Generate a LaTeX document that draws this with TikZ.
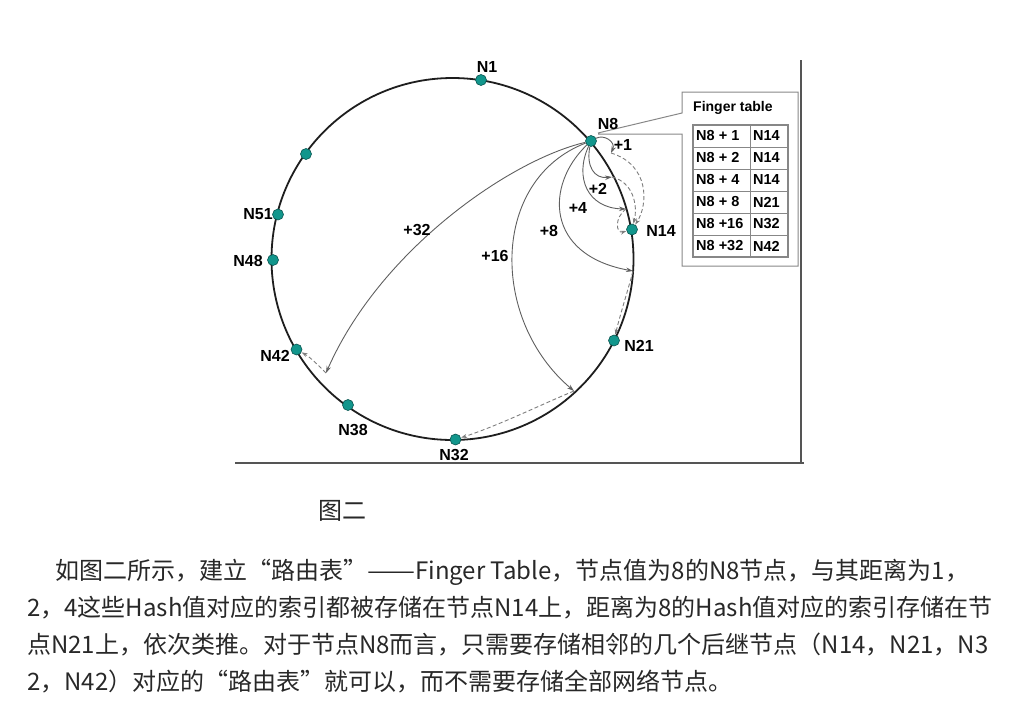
\documentclass[tikz,border=0pt]{standalone}
\usepackage{fontspec}
\usepackage{graphicx}
\newfontfamily\cjkfont{Noto Sans CJK SC}
\newfontfamily\labfont{Liberation Sans}
\usetikzlibrary{arrows.meta,backgrounds}
\definecolor{dotfill}{RGB}{18,150,140}
\definecolor{dotedge}{RGB}{10,85,80}
\definecolor{txt}{RGB}{40,40,40}
\definecolor{arrowgray}{RGB}{95,95,95}
\definecolor{dashgray}{RGB}{125,125,125}
\definecolor{ringcol}{RGB}{30,30,30}
\definecolor{boxgray}{RGB}{135,135,135}
\definecolor{framecol}{RGB}{85,85,85}
\newcommand{\myopenq}{\makebox[1em][r]{“}}
\newcommand{\mycloseq}{\makebox[1em][l]{”}}
\newcommand{\myddash}{\resizebox{2em}{\height}{——}}
\begin{document}
\begin{tikzpicture}[x=1pt,y=-1pt,
  dot/.style={circle, fill=dotfill, draw=dotedge, line width=0.6pt, minimum size=11pt, inner sep=0pt},
  lab/.style={font=\labfont\bfseries\fontsize{16}{16}\selectfont, inner sep=0pt, text=black},
  cell/.style={font=\labfont\bfseries\fontsize{14.5}{14.5}\selectfont, inner sep=0pt, anchor=west, text=black},
  fing/.style={draw=arrowgray, line width=0.9pt, -{Stealth[length=7pt,width=4.5pt]}},
  fdash/.style={draw=dashgray, line width=0.9pt, dash pattern=on 4pt off 2.5pt, -{Stealth[length=6pt,width=4pt]}},
  para/.style={font=\cjkfont\fontsize{24}{24}\selectfont, text=txt, inner sep=0pt, anchor=base west}]
\useasboundingbox (0,0) rectangle (1011,702);

% ring nodes
\node[dot] (n1)  at (481,80) {};
\node[dot] (n8)  at (591,141) {};
\node[dot] (n14) at (632,229.5) {};
\node[dot] (n21) at (614,340.5) {};
\node[dot] (n32) at (455.5,439.5) {};
\node[dot] (n38) at (348,405) {};
\node[dot] (n42) at (296.5,349.5) {};
\node[dot] (n48) at (273,260) {};
\node[dot] (n51) at (278,214.5) {};
\node[dot] (nx)  at (306,154) {};

% ring labels
\node[lab] (l1)  at (487,67)  {N1};
\node[lab] (l8)  at (608,124) {N8};
\node[lab] (l14) at (661,231) {N14};
\node[lab] (l21) at (639,346) {N21};
\node[lab] (l32) at (454,455) {N32};
\node[lab] (l38) at (353,430) {N38};
\node[lab] (l42) at (275,356) {N42};
\node[lab] (l48) at (248,261) {N48};
\node[lab] (l51) at (258,214) {N51};

% finger labels
\node[lab] (p1)  at (623,145) {+1};
\node[lab] (p2)  at (598,189) {+2};
\node[lab] (p4)  at (578,208) {+4};
\node[lab] (p8)  at (549,231) {+8};
\node[lab] (p16) at (495,256) {+16};
\node[lab] (p32) at (417,230) {+32};

% arrow tips on the ring
\coordinate (t1)  at (611,153);
\coordinate (t2)  at (612,177);
\coordinate (t4)  at (626,209);
\coordinate (t8)  at (633,271);
\coordinate (t16) at (574,391);
\coordinate (t32) at (326,373);

% finger table
\node[font=\labfont\bfseries\fontsize{14}{14}\selectfont, inner sep=0pt, anchor=west] (ftitle) at (693,108) {Finger table};
\node[cell] (a1) at (696,136) {N8 + 1};  \node[cell] (b1) at (753,136) {N14};
\node[cell] (a2) at (696,158) {N8 + 2};  \node[cell] (b2) at (753,158) {N14};
\node[cell] (a3) at (696,180) {N8 + 4};  \node[cell] (b3) at (753,180) {N14};
\node[cell] (a4) at (696,202) {N8 + 8};  \node[cell] (b4) at (753,202) {N21};
\node[cell] (a5) at (696,224) {N8 +16};  \node[cell] (b5) at (753,224) {N32};
\node[cell] (a6) at (696,246) {N8 +32};  \node[cell] (b6) at (753,246) {N42};

% text below
\node[para] (cap) at (318,519) {图二};
\node[para] (ln1) at (55,579) {如图二所示，建立\myopenq 路由表\mycloseq\myddash Finger Table，节点值为8的N8节点，与其距离为1，};
\node[para] (ln2) at (27,616) {2，4这些Hash值对应的索引都被存储在节点N14上，距离为8的Hash值对应的索引存储在节};
\node[para] (ln3) at (27,653) {点N21上，依次类推。对于节点N8而言，只需要存储相邻的几个后继节点（N14，N21，N3};
\node[para] (ln4) at (27,690) {2，N42）对应的\myopenq 路由表\mycloseq 就可以，而不需要存储全部网络节点。};

\begin{scope}[on background layer]
  % frame
  \draw[framecol, line width=2.8pt] (801,60) -- (801,464.4);
  \draw[framecol, line width=2.8pt] (235,463) -- (804,463);
  % ring
  \draw[ringcol, line width=1.8pt] (452.5,259) circle[radius=181];
  % callout box
  \draw[boxgray, line width=1pt] (598,133) -- (682,113) -- (682,92) -- (798,92) -- (798,266) -- (682,266) -- (682,134) -- (598,134);
  % table grid
  \draw[boxgray, line width=1.2pt] (693,125) rectangle (788,257);
  \draw[boxgray, line width=0.8pt] (750,125) -- (750,257);
  \foreach \yy in {147,169,191,213,235} \draw[boxgray, line width=0.8pt] (693,\yy) -- (788,\yy);
  % finger arrows
  \draw[fing] (n8) .. controls (604,134) and (616,142) .. (t1);
  \draw[fing] (n8) .. controls (586,166) and (594,179) .. (t2);
  \draw[fing] (n8) .. controls (574,178) and (588,208) .. (t4);
  \draw[fing] (n8) .. controls (545,185) and (545,255) .. (t8);
  \draw[fing] (n8) .. controls (490,180) and (490,320) .. (t16);
  \draw[fing] (n8) .. controls (510,160) and (380,250) .. (t32);
  % successor dashed arrows
  \draw[fdash] (t1) .. controls (650,165) and (648,205) .. (n14);
  \draw[fdash] (t2) .. controls (633,182) and (638,205) .. (n14);
  \draw[fdash] (t4) .. controls (614,218) and (616,234) .. (n14);
  \draw[fdash] (t8) .. controls (628,290) and (620,315) .. (n21);
  \draw[fdash] (t16) .. controls (540,405) and (500,425) .. (n32);
  \draw[fdash] (t32) .. controls (318,365) and (310,357) .. (n42);
\end{scope}
\end{tikzpicture}
\end{document}
